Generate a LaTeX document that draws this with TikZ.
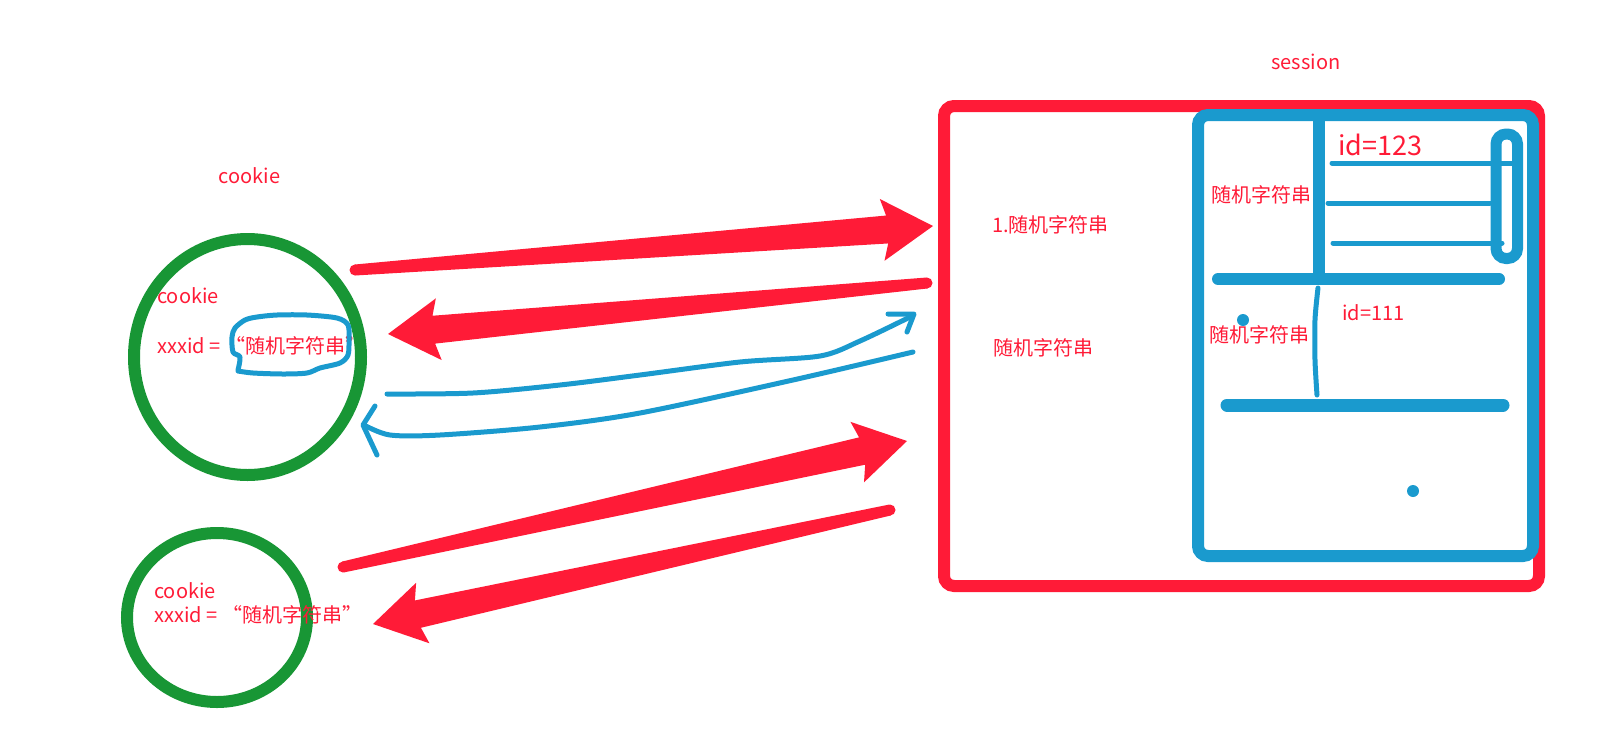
\documentclass[tikz,border=0pt]{standalone}
\usepackage{fontspec}
\setmainfont{Noto Sans CJK SC}
\usepackage{tikz}
\usetikzlibrary{calc,shapes.geometric}
\definecolor{redink}{RGB}{255,27,55}
\definecolor{greenink}{RGB}{24,150,53}
\definecolor{blueink}{RGB}{26,154,206}

% tapered hand-drawn arrow from #1 (tail) to #2 (tip)
\newcommand{\fatarrow}[2]{%
  \coordinate (#1-n) at ($(#2)!46pt!(#1)$);
  \coordinate (#1-b) at ($(#2)!51pt!(#1)$);
  \fill[redink] ($(#1)!5.5pt!90:(#2)$) -- ($(#1-n)!14pt!90:(#2)$) -- ($(#1-b)!31pt!90:(#2)$) -- (#2)
    -- ($(#1-b)!31pt!-90:(#2)$) -- ($(#1-n)!14pt!-90:(#2)$) -- ($(#1)!5.5pt!-90:(#2)$) -- cycle;
  \fill[redink] (#1) circle (5.5pt);
}

\begin{document}
\begin{tikzpicture}[
    x=1pt, y=-1pt,
    label/.style={text=redink, font=\fontsize{20}{24}\selectfont, inner sep=0pt},
    ring/.style={ellipse, draw=greenink, line width=12pt, inner sep=0pt},
    frame/.style={rectangle, rounded corners=10pt, line width=12pt, inner sep=0pt},
    pen/.style={draw=blueink, line width=5pt, line cap=round, line join=round},
    bar/.style={draw=blueink, line width=12pt, line cap=round}
]
    \useasboundingbox (0,0) rectangle (1610,740);

    % Browser side
    \node[ring, minimum width=227pt, minimum height=236pt] (cookieA) at (247.5,357) {};
    \node[ring, minimum width=180pt, minimum height=169pt] (cookieB) at (217,617.5) {};
    \node[label] (titleA) at (249.5,175.5) {cookie};
    \node[label, anchor=west] (nameA) at (157,296) {cookie};
    \node[label, anchor=west] (valueA) at (157,346) {xxxid = “随机字符串”};
    \node[label, anchor=west] (nameB) at (154,591) {cookie};
    \node[label, anchor=west] (valueB) at (154,615) {xxxid = “随机字符串”};

    % Server side
    \node[frame, draw=redink, minimum width=595pt, minimum height=480pt] (store) at (1241.5,346) {};
    \node[frame, draw=blueink, minimum width=335pt, minimum height=441pt] (table) at (1365.5,335.5) {};
    \node[frame, draw=blueink, line width=11pt, minimum width=21.5pt, minimum height=124.5pt] (slot) at (1506.75,196.25) {};
    \node[label] (titleS) at (1306,62) {session};
    \node[label, anchor=west] (keyOne) at (992,225) {1.随机字符串};
    \node[label, anchor=west] (keyTwo) at (993,348) {随机字符串};
    \node[label, anchor=west] (rowOne) at (1211,195) {随机字符串};
    \node[label, anchor=west] (rowTwo) at (1209,335) {随机字符串};
    \node[label, anchor=west, font=\fontsize{27}{30}\selectfont] (idOne) at (1338,145) {id=123};
    \node[label, anchor=west] (idTwo) at (1342,313) {id=111};

    % Table lines
    \draw[bar] (1318.5,118) -- (1318.5,272);
    \draw[bar] (1218,279) -- (1499,279);
    \draw[bar, line width=13pt] (1227,405) -- (1503,405);
    \draw[pen] (1332,163) -- (1512,163);
    \draw[pen] (1328,203) -- (1490,203);
    \draw[pen] (1333,243) -- (1502,243);
    \draw[pen] plot[smooth] coordinates {(1318,288) (1315,320) (1315,360) (1317,395)};
    \fill[blueink] (1243,320) circle (6pt);
    \fill[blueink] (1413,491) circle (6pt);

    % Mark on the cookie value
    \draw[pen] plot[smooth] coordinates {(238,370) (240,357) (233,352) (232,337) (235,328) (245,320)
      (257,317) (277,315) (307,315) (337,318) (348,325) (349,340) (348,355) (340,363) (320,368)
      (307,373) (283,374) (253,373) (238,371)};

    % Red arrows
    \coordinate (sendA) at (355,270);  \coordinate (sendAtip) at (933,226);
    \coordinate (backA) at (927,283);  \coordinate (backAtip) at (388,334);
    \coordinate (sendB) at (343,567);  \coordinate (sendBtip) at (907,441);
    \coordinate (backB) at (890,510);  \coordinate (backBtip) at (373,624);
    \fatarrow{sendA}{sendAtip}
    \fatarrow{backA}{backAtip}
    \fatarrow{sendB}{sendBtip}
    \fatarrow{backB}{backBtip}

    % Blue arrows
    \coordinate (askTip) at (914,314);
    \coordinate (replyTip) at (363,425);
    \draw[pen] plot[smooth] coordinates {(387,394) (473,393) (560,385) (640,375) (740,362)
      (820,356) (860,341) (910,317)};
    \draw[pen] (askTip) ++(-26,0) -- (askTip) -- ++(-7,18);
    \draw[pen] plot[smooth] coordinates {(913,352) (793,380) (640,413) (540,427) (440,435)
      (390,435) (364,425)};
    \draw[pen] (replyTip) ++(12,-19) -- (replyTip) -- ++(14,30);
\end{tikzpicture}
\end{document}
